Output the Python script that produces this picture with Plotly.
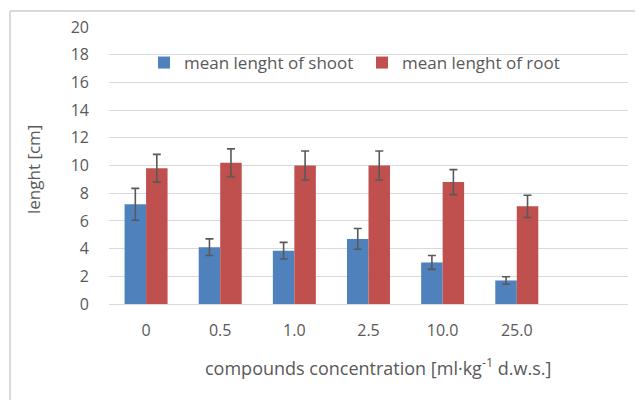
import plotly.graph_objects as go

categories = ["0", "0.5", "1.0", "2.5", "10.0", "25.0", ""]
shoot = [7.2, 4.1, 3.85, 4.7, 3.0, 1.7]
shoot_err = [1.15, 0.6, 0.6, 0.75, 0.5, 0.27]
root = [9.8, 10.2, 10.0, 10.0, 8.8, 7.05]
root_err = [1.0, 1.0, 1.05, 1.05, 0.9, 0.8]
y_ticks = list(range(0, 21, 2))

FONT = "Open Sans"
GRAY = "#595959"
xs = list(range(len(shoot)))

fig = go.Figure()
fig.add_trace(go.Bar(
    x=xs, y=shoot, name="mean lenght of shoot",
    marker=dict(color="#4F81BD", line=dict(width=0)),
    error_y=dict(type="data", array=shoot_err, color="#595959", thickness=1.6, width=4),
))
fig.add_trace(go.Bar(
    x=xs, y=root, name="mean lenght of root",
    marker=dict(color="#C0504D", line=dict(width=0)),
    error_y=dict(type="data", array=root_err, color="#595959", thickness=1.6, width=4),
))

W, H = 643, 400
OFF = 8  # page body margin offset
# desired on-screen plot area
SL, SR, ST, SB = 109, 628, 27, 304
L, T = SL - OFF, ST - OFF
R = W - (SR - OFF)
B = H - (SB - OFF)
pw = SR - SL
ph = SB - ST


def px(x):
    return (x - SL) / pw


def py(y):
    return (SB - y) / ph


fig.update_layout(
    width=W, height=H,
    margin=dict(l=L, r=R, t=T, b=B, pad=0, autoexpand=False),
    paper_bgcolor="white", plot_bgcolor="white",
    barmode="group", bargap=0.42, bargroupgap=0,
    font=dict(family=FONT, size=16, color=GRAY),
    showlegend=True,
    legend=dict(orientation="h", x=px(144), y=py(63), yanchor="middle", xanchor="left",
                font=dict(family=FONT, size=17, color=GRAY), bgcolor="rgba(0,0,0,0)",
                itemwidth=30, entrywidth=173, entrywidthmode="pixels"),
    xaxis=dict(
        range=[-0.5, len(categories) - 0.5], automargin=False,
        tickmode="array", tickvals=list(range(len(categories))), ticktext=categories,
        showgrid=False, zeroline=False, showline=False, ticks="",
        ticklabelstandoff=15, tickfont=dict(family=FONT, size=16, color=GRAY),
    ),
    yaxis=dict(
        range=[0, 20], tickmode="array", tickvals=y_ticks, automargin=False,
        showgrid=True, gridcolor="#d9d9d9", gridwidth=1,
        zeroline=True, zerolinecolor="#d9d9d9", zerolinewidth=1,
        showline=False, ticks="", ticklabelstandoff=19,
        tickfont=dict(family=FONT, size=16, color=GRAY),
    ),
    shapes=[
        dict(type="line", xref="paper", yref="paper",
             x0=px(10), x1=px(10), y0=py(11), y1=py(430),
             line=dict(color="#d9d9d9", width=2)),
        dict(type="line", xref="paper", yref="paper",
             x0=px(10), x1=px(670), y0=py(11), y1=py(11),
             line=dict(color="#d9d9d9", width=2)),
    ],
    annotations=[
        dict(text="lenght [cm]", xref="paper", yref="paper", x=px(33), y=py(170),
             textangle=-90, showarrow=False, font=dict(family=FONT, size=17, color=GRAY),
             xanchor="center", yanchor="middle"),
        dict(text="compounds concentration [ml·kg<sup>-1</sup> d.w.s.]", xref="paper", yref="paper",
             x=px(378), y=py(367), showarrow=False,
             font=dict(family=FONT, size=18, color=GRAY), xanchor="center", yanchor="middle"),
    ],
)

fig.write_html("out.html")
